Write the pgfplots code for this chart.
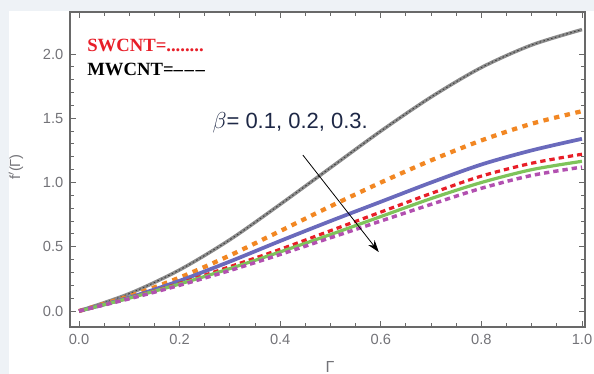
\documentclass[border=0pt]{standalone}
\usepackage{fontspec}
\setmainfont{Liberation Sans}
\newfontfamily\serifbold{Liberation Serif}
\usepackage{pgfplots}
\pgfplotsset{compat=1.18}
\usetikzlibrary{arrows.meta}
\definecolor{bgout}{RGB}{238,242,246}
\definecolor{framec}{RGB}{105,105,105}
\definecolor{tickc}{RGB}{115,115,120}
\definecolor{cgray}{RGB}{140,140,140}
\definecolor{corange}{RGB}{242,135,35}
\definecolor{cblue}{RGB}{106,106,188}
\definecolor{cred}{RGB}{232,30,40}
\definecolor{cgreen}{RGB}{126,196,90}
\definecolor{cpurple}{RGB}{178,80,176}
\definecolor{cnavy}{RGB}{30,40,70}
\begin{document}
\begin{tikzpicture}
\useasboundingbox (0,0) rectangle (445.5pt,280.5pt);
\fill[bgout] (0,0) rectangle (445.5pt,280.5pt);
\fill[white] (6.75pt,0) rectangle (445.5pt,272.25pt);
\begin{axis}[
  at={(52.5pt,35.25pt)}, anchor=south west,
  scale only axis, width=386.25pt, height=236.25pt,
  xmin=-0.0179, xmax=1.006, ymin=-0.1245, ymax=2.327,
  xtick={0,0.2,0.4,0.6,0.8,1.0},
  ytick={0,0.5,1.0,1.5,2.0},
  minor x tick num=3, minor y tick num=4,
  xticklabels={0.0,0.2,0.4,0.6,0.8,1.0},
  yticklabels={0.0,0.5,1.0,1.5,2.0},
  tick align=inside,
  major tick length=4.5pt, minor tick length=3pt,
  axis line style={framec, line width=0.8pt},
  every tick/.style={framec, line width=0.7pt},
  tick label style={font=\fontsize{11}{13}\selectfont, text=tickc},
  /pgf/number format/assume math mode=true,
  xticklabel style={yshift=-2pt},
  yticklabel style={xshift=-1.5pt},
  clip=false,
]
% gray curve
\addplot[cgray, line width=2.6pt, smooth] coordinates {
(0,0) (0.1,0.135) (0.2,0.32) (0.3,0.555) (0.4,0.83) (0.5,1.115) (0.6,1.40) (0.7,1.665) (0.8,1.895) (0.9,2.07) (1.0,2.19)};
\addplot[black, opacity=0.55, line width=0.7pt, dash pattern=on 1.2pt off 1.8pt, smooth] coordinates {
(0,0) (0.1,0.135) (0.2,0.32) (0.3,0.555) (0.4,0.83) (0.5,1.115) (0.6,1.40) (0.7,1.665) (0.8,1.895) (0.9,2.07) (1.0,2.19)};
% orange dotted
\addplot[corange, line width=3.2pt, dash pattern=on 4pt off 4.2pt, smooth] coordinates {
(0,0) (0.1,0.115) (0.2,0.26) (0.3,0.4325) (0.4,0.6225) (0.5,0.815) (0.6,1.0) (0.7,1.1725) (0.8,1.3275) (0.9,1.4575) (1.0,1.555)};
% blue solid
\addplot[cblue, line width=2.8pt, smooth] coordinates {
(0,0) (0.1,0.105) (0.2,0.235) (0.3,0.385) (0.4,0.545) (0.5,0.70) (0.6,0.85) (0.7,1.0) (0.8,1.14) (0.9,1.25) (1.0,1.34)};
% red dashed
\addplot[cred, line width=2.4pt, dash pattern=on 4pt off 3pt, smooth] coordinates {
(0,0) (0.1,0.10) (0.2,0.215) (0.3,0.345) (0.4,0.48) (0.5,0.625) (0.6,0.77) (0.7,0.915) (0.8,1.05) (0.9,1.15) (1.0,1.22)};
% green solid
\addplot[cgreen, line width=2.4pt, smooth] coordinates {
(0,0) (0.1,0.10) (0.2,0.21) (0.3,0.33) (0.4,0.46) (0.5,0.595) (0.6,0.735) (0.7,0.875) (0.8,1.0) (0.9,1.10) (1.0,1.165)};
% purple dashed
\addplot[cpurple, line width=2.6pt, dash pattern=on 4pt off 3pt, smooth] coordinates {
(0,0) (0.1,0.095) (0.2,0.20) (0.3,0.315) (0.4,0.44) (0.5,0.57) (0.6,0.70) (0.7,0.83) (0.8,0.955) (0.9,1.055) (1.0,1.12)};
% annotations
\node[anchor=base west, inner sep=0pt, text=cred, font=\serifbold\bfseries\fontsize{14}{16}\selectfont] at (axis cs:0.016,2.02) {SWCNT=........};
\node[anchor=base west, inner sep=0pt, text=black, font=\serifbold\bfseries\fontsize{14}{16}\selectfont] at (axis cs:0.016,1.83) {MWCNT=–\kern1.2pt–\kern1.2pt–};
\node[anchor=base west, inner sep=0pt, text=cnavy, font=\fontsize{16.5}{19}\selectfont] at (axis cs:0.265,1.424) {$\beta$= 0.1, 0.2, 0.3.};
\draw[-{Stealth[length=9pt,width=6pt]}, black, line width=0.6pt] (axis cs:0.445,1.214) -- (axis cs:0.596,0.459);
\node[rotate=90, text=tickc, font=\fontsize{11}{13}\selectfont] at (rel axis cs:-0.105,0.508) {f$'$(Γ)};
\node[text=tickc, font=\fontsize{12}{14}\selectfont] at (rel axis cs:0.505,-0.127) {Γ};
\end{axis}
\end{tikzpicture}
\end{document}
